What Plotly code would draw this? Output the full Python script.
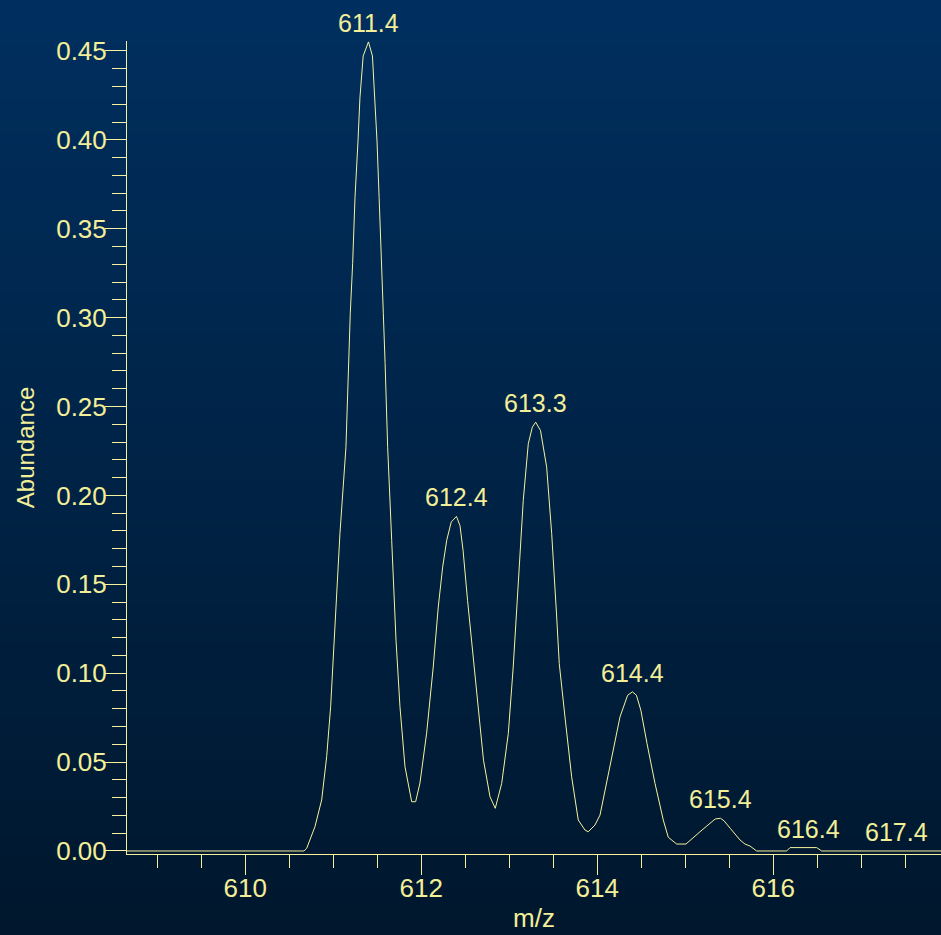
import numpy as np
import plotly.graph_objects as go

# Isotope envelope profile (m/z vs. abundance)
mz = [
    608.600, 610.667, 610.698, 610.792, 610.868, 610.925, 610.970, 611.011,
    611.050, 611.076, 611.144, 611.170, 611.193, 611.220, 611.247, 611.281,
    611.303, 611.340, 611.400, 611.445, 611.470, 611.497, 611.521, 611.544,
    611.569, 611.589, 611.618, 611.664, 611.713, 611.758, 611.815, 611.891,
    611.936, 611.985, 612.061, 612.136, 612.193, 612.243, 612.289, 612.340,
    612.400, 612.440, 612.475, 612.526, 612.580, 612.634, 612.707, 612.781,
    612.841, 612.914, 612.989, 613.045, 613.102, 613.159, 613.216, 613.262,
    613.300, 613.355, 613.425, 613.482, 613.539, 613.568, 613.633, 613.709,
    613.784, 613.860, 613.898, 613.974, 614.031, 614.107, 614.182, 614.258,
    614.345, 614.400, 614.445, 614.495, 614.565, 614.656, 614.750, 614.807,
    614.902, 615.008, 615.167, 615.340, 615.400, 615.440, 615.510, 615.622,
    615.678, 615.735, 615.811, 616.152, 616.190, 616.493, 616.550, 618.000,
]
abundance = [
    0.0000, 0.0000, 0.0015, 0.0137, 0.0287, 0.0530, 0.0811, 0.1185,
    0.1562, 0.1787, 0.2271, 0.2742, 0.3022, 0.3303, 0.3676, 0.3994,
    0.4238, 0.4472, 0.4551, 0.4472, 0.4238, 0.3994, 0.3676, 0.3303,
    0.3022, 0.2742, 0.2271, 0.1747, 0.1185, 0.0811, 0.0474, 0.0277,
    0.0277, 0.0382, 0.0663, 0.1035, 0.1372, 0.1597, 0.1747, 0.1850,
    0.1882, 0.1830, 0.1691, 0.1410, 0.1129, 0.0848, 0.0511, 0.0305,
    0.0240, 0.0380, 0.0661, 0.1035, 0.1504, 0.1972, 0.2290, 0.2384,
    0.2412, 0.2365, 0.2159, 0.1785, 0.1316, 0.1054, 0.0754, 0.0417,
    0.0174, 0.0118, 0.0108, 0.0146, 0.0202, 0.0380, 0.0567, 0.0754,
    0.0876, 0.0895, 0.0876, 0.0792, 0.0605, 0.0380, 0.0174, 0.0077,
    0.0039, 0.0039, 0.0108, 0.0180, 0.0184, 0.0170, 0.0128, 0.0062,
    0.0039, 0.0028, 0.0000, 0.0000, 0.0019, 0.0019, 0.0000, 0.0000,
]

# Labelled isotope peaks
peak_mz = [611.4, 612.4, 613.3, 614.4, 615.4, 616.4, 617.4]
peak_labels = ["611.4", "612.4", "613.3", "614.4", "615.4", "616.4", "617.4"]

W, H = 941, 935
M_L, M_R, M_T, M_B = 127, 0, 41, 81

FG = "#f3ef98"
LINE = "#f6f29c"
FONT = "Liberation Sans, Arial, sans-serif"

fig = go.Figure()
fig.add_trace(go.Scatter(
    x=mz, y=abundance, mode="lines",
    line=dict(color=LINE, width=1),
    hoverinfo="skip", showlegend=False,
))

# Peak labels sit just above the profile's local maximum
mz_arr = np.array(mz)
ab_arr = np.array(abundance)
annotations = []
for pm, txt in zip(peak_mz, peak_labels):
    near = ab_arr[np.abs(mz_arr - pm) <= 0.1]
    top = max(float(np.interp(pm, mz_arr, ab_arr)),
              float(near.max()) if near.size else 0.0)
    annotations.append(dict(
        x=pm, y=top, text=txt, showarrow=False,
        xanchor="center", yanchor="bottom", yshift=3,
        font=dict(family=FONT, size=25, color=FG),
    ))

plot_w = W - M_L - M_R
plot_h = H - M_T - M_B

# x-axis title, set low in the bottom margin
annotations.append(dict(
    x=0.5, xref="paper", y=-M_B / plot_h, yref="paper",
    text="m/z", showarrow=False, xanchor="center", yanchor="bottom",
    yshift=0, font=dict(family=FONT, size=26, color=FG),
))

# Vertical background gradient built from thin strips
x0 = -M_L / plot_w
x1 = 1 + M_R / plot_w
y_top = 1 + M_T / plot_h
y_bot = -M_B / plot_h
top_rgb = (0, 47, 95)
bot_rgb = (0, 23, 45)
n = 160
shapes = []
for i in range(n):
    t = (i + 0.5) / n
    r = round(top_rgb[0] + (bot_rgb[0] - top_rgb[0]) * t)
    g = round(top_rgb[1] + (bot_rgb[1] - top_rgb[1]) * t)
    b = round(top_rgb[2] + (bot_rgb[2] - top_rgb[2]) * t)
    ya = y_top - (y_top - y_bot) * i / n
    yb = y_top - (y_top - y_bot) * (i + 1) / n - 0.002
    shapes.append(dict(
        type="rect", xref="paper", yref="paper",
        x0=x0, x1=x1, y0=yb, y1=ya,
        fillcolor=f"rgb({r},{g},{b})", line=dict(width=0),
        layer="below",
    ))

axis_font = dict(family=FONT, size=26, color=FG)

fig.update_layout(
    width=W, height=H,
    margin=dict(l=M_L, r=M_R, t=M_T, b=M_B, pad=0, autoexpand=False),
    paper_bgcolor="rgb(0,35,70)",
    plot_bgcolor="rgba(0,0,0,0)",
    shapes=shapes,
    annotations=annotations,
    xaxis=dict(
        range=[608.656, 617.906], automargin=False,
        showgrid=False, zeroline=False,
        showline=True, linecolor=LINE, linewidth=1,
        ticks="outside", ticklen=20, tickwidth=1, tickcolor=LINE,
        tick0=610, dtick=2, tickfont=axis_font, ticklabelstandoff=-9,
        minor=dict(ticks="outside", ticklen=13, tickwidth=1,
                   tickcolor=LINE, dtick=0.5, tick0=610, showgrid=False),
    ),
    yaxis=dict(
        range=[-0.0017, 0.4556], automargin=False,
        showgrid=False, zeroline=False,
        showline=True, linecolor=LINE, linewidth=1,
        ticks="outside", ticklen=21, tickwidth=1, tickcolor=LINE,
        tick0=0, dtick=0.05, tickformat=".2f", tickfont=axis_font,
        ticklabelstandoff=-7,
        minor=dict(ticks="outside", ticklen=14, tickwidth=1,
                   tickcolor=LINE, dtick=0.01, tick0=0, showgrid=False),
        title=dict(text="Abundance", font=dict(family=FONT, size=24, color=FG),
                   standoff=14),
    ),
)

fig.write_html("out.html")
